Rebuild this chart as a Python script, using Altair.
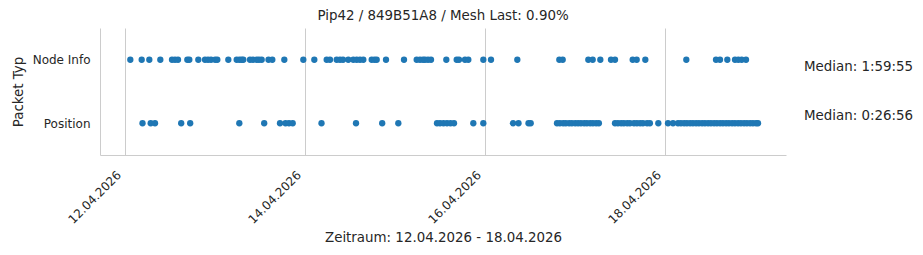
import altair as alt
import pandas as pd

title_text = "Pip42 / 849B51A8 / Mesh Last: 0.90%"
x_title = "Zeitraum: 12.04.2026 - 18.04.2026"
y_title = "Packet Typ"
categories = ["Node Info", "Position"]
median_labels = ["Median: 1:59:55", "Median: 0:26:56"]

node_info_times = [
    "2026-04-12 01:25", "2026-04-12 04:27", "2026-04-12 06:29", "2026-04-12 09:25",
    "2026-04-12 12:32", "2026-04-12 13:20", "2026-04-12 14:08", "2026-04-12 16:37",
    "2026-04-12 17:09", "2026-04-12 19:33", "2026-04-12 21:20", "2026-04-12 22:08",
    "2026-04-12 22:56", "2026-04-13 00:02", "2026-04-13 00:37", "2026-04-13 03:33",
    "2026-04-13 05:47", "2026-04-13 06:32", "2026-04-13 07:07", "2026-04-13 07:33",
    "2026-04-13 09:20", "2026-04-13 10:08", "2026-04-13 11:07", "2026-04-13 11:44",
    "2026-04-13 12:27", "2026-04-13 14:16", "2026-04-13 15:17", "2026-04-13 18:29",
    "2026-04-13 23:33", "2026-04-14 02:29", "2026-04-14 05:47", "2026-04-14 06:40",
    "2026-04-14 08:27", "2026-04-14 09:20", "2026-04-14 10:08", "2026-04-14 11:33",
    "2026-04-14 12:53", "2026-04-14 13:47", "2026-04-14 14:40", "2026-04-14 15:33",
    "2026-04-14 17:47", "2026-04-14 18:32", "2026-04-14 19:07", "2026-04-14 21:36",
    "2026-04-15 02:24", "2026-04-15 05:47", "2026-04-15 06:40", "2026-04-15 07:28",
    "2026-04-15 08:00", "2026-04-15 08:48", "2026-04-15 09:36", "2026-04-15 13:41",
    "2026-04-15 16:27", "2026-04-15 17:04", "2026-04-15 18:40", "2026-04-15 19:33",
    "2026-04-15 23:33", "2026-04-16 01:36", "2026-04-16 08:37", "2026-04-16 19:49",
    "2026-04-16 20:43", "2026-04-17 03:33", "2026-04-17 04:43", "2026-04-17 06:45",
    "2026-04-17 09:36", "2026-04-17 10:40", "2026-04-17 15:23", "2026-04-17 16:27",
    "2026-04-17 18:45", "2026-04-18 05:41", "2026-04-18 13:36", "2026-04-18 14:40",
    "2026-04-18 16:37", "2026-04-18 18:40", "2026-04-18 19:33", "2026-04-18 20:27",
    "2026-04-18 21:36",
]

position_times = [
    "2026-04-12 04:40", "2026-04-12 06:51", "2026-04-12 08:00", "2026-04-12 14:59",
    "2026-04-12 17:23", "2026-04-13 06:29", "2026-04-13 13:07", "2026-04-13 17:20",
    "2026-04-13 18:48", "2026-04-13 19:44", "2026-04-13 20:43", "2026-04-14 04:24",
    "2026-04-14 13:36", "2026-04-14 20:35", "2026-04-15 00:53", "2026-04-15 11:12",
    "2026-04-15 12:00", "2026-04-15 12:56", "2026-04-15 13:52", "2026-04-15 14:48",
    "2026-04-15 15:44", "2026-04-15 20:53", "2026-04-15 23:33", "2026-04-16 07:28",
    "2026-04-16 08:56", "2026-04-16 11:36", "2026-04-16 12:11", "2026-04-16 19:12",
    "2026-04-16 19:58", "2026-04-16 20:51", "2026-04-16 21:33", "2026-04-16 22:26",
    "2026-04-16 23:10", "2026-04-17 00:03", "2026-04-17 00:49", "2026-04-17 01:35",
    "2026-04-17 02:27", "2026-04-17 03:11", "2026-04-17 04:02", "2026-04-17 04:47",
    "2026-04-17 05:38", "2026-04-17 06:22", "2026-04-17 10:40", "2026-04-17 11:27",
    "2026-04-17 12:18", "2026-04-17 13:02", "2026-04-17 13:55", "2026-04-17 14:39",
    "2026-04-17 15:44", "2026-04-17 16:31", "2026-04-17 17:22", "2026-04-17 18:07",
    "2026-04-17 19:13", "2026-04-17 19:58", "2026-04-17 22:13", "2026-04-18 00:48",
    "2026-04-18 02:08", "2026-04-18 03:28", "2026-04-18 04:15", "2026-04-18 05:06",
    "2026-04-18 05:51", "2026-04-18 06:41", "2026-04-18 07:27", "2026-04-18 08:17",
    "2026-04-18 09:03", "2026-04-18 09:53", "2026-04-18 10:39", "2026-04-18 11:29",
    "2026-04-18 12:15", "2026-04-18 13:05", "2026-04-18 13:51", "2026-04-18 14:41",
    "2026-04-18 15:27", "2026-04-18 16:17", "2026-04-18 17:03", "2026-04-18 17:53",
    "2026-04-18 18:39", "2026-04-18 19:29", "2026-04-18 20:15", "2026-04-18 21:05",
    "2026-04-18 21:51", "2026-04-18 22:41", "2026-04-18 23:27", "2026-04-19 00:17",
    "2026-04-19 00:48",
]

tick_dates = [(2026, 4, 12), (2026, 4, 14), (2026, 4, 16), (2026, 4, 18)]

FONT = "DejaVu Sans"
TEXT = "#262626"
GRID = "#cccccc"
BLUE = "#1f77b4"
LABEL_FS = 12
TITLE_FS = 13.4

df = pd.DataFrame(
    {"time": node_info_times + position_times,
     "typ": [categories[0]] * len(node_info_times) + [categories[1]] * len(position_times)}
)
med_df = pd.DataFrame({"typ": categories, "label": median_labels})

W, H = 686, 127

x_scale = alt.Scale(domain=[alt.DateTime(year=2026, month=4, date=11, hours=17, minutes=20),
                            alt.DateTime(year=2026, month=4, date=19, hours=8, minutes=16)])
y_scale = alt.Scale(domain=categories, padding=0.5)

points = alt.Chart(df).mark_circle(size=40, color=BLUE, opacity=1).encode(
    x=alt.X("time:T", scale=x_scale, title=x_title,
            axis=alt.Axis(values=[alt.DateTime(year=y, month=m, date=d) for y, m, d in tick_dates],
                          format="%d.%m.%Y", labelAngle=-45, labelAlign="right", labelBaseline="top",
                          grid=True, gridColor=GRID, gridWidth=1, ticks=False, labelPadding=14,
                          labelOffset=-10,
                          domainColor=GRID, labelColor=TEXT, labelFontSize=LABEL_FS, labelFont=FONT,
                          titleFont=FONT, titleFontSize=TITLE_FS, titleColor=TEXT, titleFontWeight="normal",
                          titlePadding=5)),
    y=alt.Y("typ:O", scale=y_scale, title=y_title, sort=categories,
            axis=alt.Axis(grid=False, ticks=False, labelPadding=10, domainColor=GRID,
                          labelColor=TEXT, labelFontSize=LABEL_FS, labelFont=FONT,
                          titleFont=FONT, titleFontSize=TITLE_FS, titleColor=TEXT, titleFontWeight="normal",
                          titlePadding=7)),
)

def med_layer(i, dy):
    return alt.Chart(med_df).transform_filter(alt.datum.typ == categories[i]).mark_text(
        align="left", baseline="middle", font=FONT, fontSize=TITLE_FS, color=TEXT, dy=dy, dx=18
    ).encode(
        x=alt.value(W),
        y=alt.Y("typ:O", scale=y_scale, sort=categories),
        text="label:N",
    )

chart = alt.layer(points, med_layer(0, 7), med_layer(1, -7)).properties(
    width=W, height=H,
    title=alt.TitleParams(title_text, font=FONT, fontSize=TITLE_FS, color=TEXT, fontWeight="normal", offset=6),
    autosize=alt.AutoSizeParams(type="none"),
    padding={"left": 100, "top": 28, "right": 137, "bottom": 100},
).configure(background="white").configure_view(stroke=None)

chart.save("out.html", embed_options={"renderer": "svg", "actions": False})
